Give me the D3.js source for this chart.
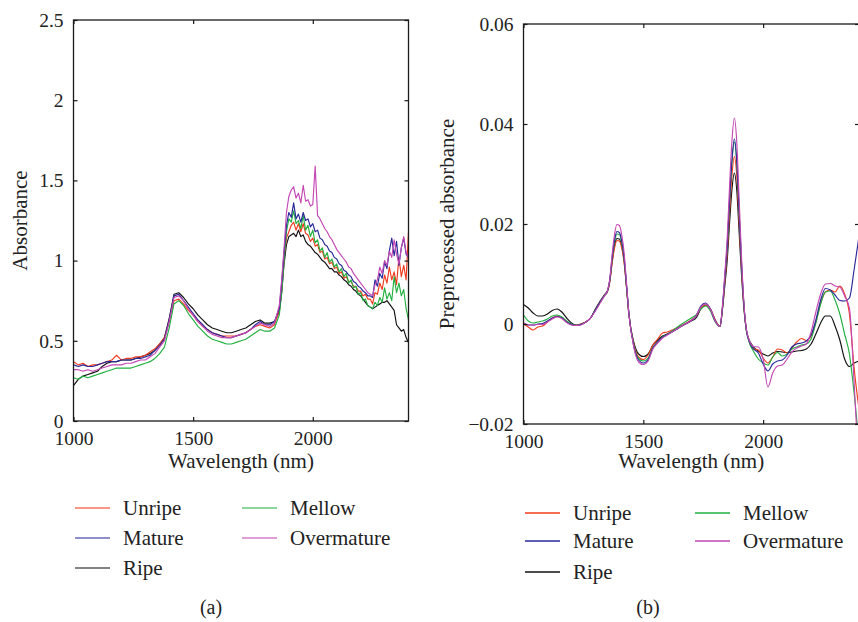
<!DOCTYPE html>
<html>
<head>
<meta charset="utf-8">
<script src="https://cdn.jsdelivr.net/npm/d3@7"></script>
<style>
  body { margin: 0; background: #fff; }
</style>
</head>
<body>
<svg id="chart" width="858" height="622"></svg>
<script>
// ---- data ----
var seriesNames = ["Unripe", "Mature", "Ripe", "Mellow", "Overmature"];
var seriesColors = ["#f23a1e", "#28289a", "#111111", "#22b040", "#c447b4"];

var xTicks = [1000, 1500, 2000];
var yTicksA = [0, 0.5, 1, 1.5, 2, 2.5];
var yTicksB = [-0.02, 0, 0.02, 0.04, 0.06];

var serif = "'Liberation Serif', 'DejaVu Serif', 'Times New Roman', serif";

// (a) raw absorbance: every 20 nm up to 1860, every 10 nm in the noisy part
var wlA = [
 1000,1020,1040,1060,1080,1100,1120,1140,1160,1180,
 1200,1220,1240,1260,1280,1300,1320,1340,1360,1380,
 1400,1420,1440,1460,1480,1500,1520,1540,1560,1580,
 1600,1620,1640,1660,1680,1700,1720,1740,1760,1780,
 1800,1820,1840,1860,
 1870,1880,1890,1900,1910,1920,1930,1940,1950,1960,
 1970,1980,1990,2000,2010,2020,2030,2040,2050,2060,
 2070,2080,2090,2100,2110,2120,2130,2140,2150,2160,
 2170,2180,2190,2200,2210,2220,2230,2240,2250,2260,
 2270,2280,2290,2300,2310,2320,2330,2340,2350,2360,
 2370,2380,2390,2400];

var unripeA = [
 0.37,0.35,0.36,0.34,0.35,0.35,0.36,0.37,0.38,0.41,
 0.38,0.39,0.39,0.40,0.40,0.41,0.43,0.45,0.48,0.52,
 0.62,0.75,0.76,0.73,0.69,0.66,0.62,0.59,0.57,0.55,
 0.54,0.53,0.53,0.53,0.53,0.54,0.55,0.57,0.59,0.60,
 0.59,0.58,0.60,0.69,
 0.82,1.02,1.14,1.18,1.22,1.24,1.19,1.23,1.18,1.23,
 1.17,1.16,1.12,1.14,1.09,1.10,1.05,1.06,1.01,1.02,
 0.98,0.99,0.95,0.96,0.92,0.93,0.89,0.90,0.87,0.87,
 0.84,0.84,0.81,0.81,0.78,0.79,0.76,0.76,0.73,0.80,
 0.79,0.86,0.82,0.91,0.86,0.96,0.88,0.93,0.85,1.02,
 0.90,0.97,0.88,1.18];
var matureA = [
 0.35,0.34,0.35,0.34,0.34,0.35,0.36,0.37,0.37,0.37,
 0.38,0.38,0.38,0.39,0.39,0.40,0.41,0.44,0.47,0.51,
 0.63,0.78,0.79,0.75,0.71,0.67,0.63,0.60,0.57,0.55,
 0.54,0.53,0.52,0.52,0.53,0.54,0.55,0.57,0.60,0.62,
 0.60,0.60,0.62,0.70,
 0.86,1.05,1.22,1.30,1.27,1.36,1.26,1.29,1.24,1.30,
 1.25,1.26,1.21,1.23,1.18,1.19,1.14,1.13,1.10,1.09,
 1.06,1.05,1.02,1.01,0.98,0.97,0.94,0.93,0.91,0.90,
 0.87,0.86,0.84,0.83,0.81,0.80,0.78,0.78,0.77,0.88,
 0.84,0.92,0.89,0.99,0.95,1.06,1.14,1.03,1.12,0.97,
 1.08,1.14,1.04,1.02];
var ripeA = [
 0.22,0.26,0.28,0.29,0.30,0.31,0.34,0.36,0.37,0.37,
 0.38,0.38,0.38,0.39,0.40,0.41,0.42,0.44,0.48,0.52,
 0.64,0.79,0.80,0.77,0.73,0.70,0.66,0.63,0.60,0.58,
 0.57,0.56,0.55,0.55,0.56,0.57,0.58,0.60,0.62,0.63,
 0.61,0.61,0.62,0.68,
 0.80,0.98,1.10,1.15,1.16,1.17,1.15,1.19,1.15,1.16,
 1.12,1.10,1.09,1.07,1.05,1.04,1.02,1.00,0.99,0.97,
 0.95,0.95,0.93,0.93,0.91,0.90,0.88,0.87,0.85,0.84,
 0.82,0.81,0.79,0.78,0.76,0.74,0.72,0.71,0.70,0.71,
 0.72,0.73,0.74,0.74,0.75,0.73,0.71,0.69,0.60,0.58,
 0.56,0.57,0.52,0.49];
var mellowA = [
 0.27,0.26,0.28,0.27,0.28,0.29,0.30,0.31,0.32,0.33,
 0.33,0.33,0.33,0.34,0.35,0.36,0.37,0.39,0.42,0.46,
 0.58,0.73,0.75,0.72,0.67,0.63,0.59,0.56,0.53,0.51,
 0.50,0.49,0.48,0.48,0.49,0.50,0.51,0.53,0.55,0.57,
 0.56,0.56,0.58,0.66,
 0.80,1.00,1.18,1.26,1.24,1.31,1.23,1.25,1.20,1.28,
 1.19,1.22,1.15,1.19,1.11,1.13,1.06,1.08,1.02,1.05,
 0.99,1.01,0.96,0.98,0.93,0.95,0.90,0.92,0.86,0.88,
 0.83,0.84,0.79,0.80,0.75,0.76,0.72,0.71,0.70,0.74,
 0.72,0.77,0.74,0.83,0.76,0.80,0.75,0.90,0.80,0.86,
 0.78,0.82,0.70,0.63];
var overmatureA = [
 0.32,0.32,0.31,0.32,0.31,0.32,0.33,0.34,0.35,0.35,
 0.35,0.36,0.36,0.37,0.38,0.38,0.40,0.42,0.46,0.50,
 0.62,0.77,0.78,0.75,0.70,0.66,0.62,0.59,0.56,0.54,
 0.53,0.52,0.52,0.52,0.53,0.54,0.55,0.57,0.59,0.61,
 0.60,0.59,0.61,0.72,
 0.88,1.08,1.30,1.40,1.44,1.46,1.39,1.42,1.36,1.47,
 1.37,1.38,1.34,1.35,1.59,1.28,1.26,1.23,1.20,1.18,
 1.15,1.13,1.10,1.07,1.05,1.03,1.01,0.99,0.96,0.95,
 0.92,0.90,0.88,0.86,0.84,0.82,0.80,0.79,0.78,0.85,
 0.88,0.96,0.92,1.00,0.97,1.06,1.02,1.13,1.04,0.98,
 1.08,1.15,1.05,1.02];

// (b) preprocessed absorbance, denser around the two peaks
var wlB = [
 1000,1020,1040,1060,1080,1100,1120,1140,1160,1180,
 1200,1220,1240,1260,1280,1300,1320,1340,1350,1360,
 1370,1380,1390,1400,1410,1420,1430,1440,1460,1480,
 1500,1520,1540,1560,1580,1600,1620,1640,1660,1680,
 1700,1720,1740,1760,1780,1800,1820,1830,1840,1850,
 1860,1870,1880,1890,1900,1910,1920,1930,1940,1960,
 1980,2000,2020,2040,2060,2080,2100,2120,2140,2160,
 2180,2200,2220,2240,2260,2280,2300,2320,2340,2360,
 2380,2400];

var unripeB = [
 0.0000,-0.0006,-0.0012,-0.0006,-0.0004,0.0004,0.0012,0.0016,0.0012,0.0004,
 -0.0001,-0.0003,0.0000,0.0004,0.0012,0.0028,0.0044,0.0058,0.0064,0.0083,
 0.0122,0.0152,0.0167,0.0166,0.0152,0.0122,0.0072,0.0018,-0.0040,-0.0066,
 -0.0071,-0.0062,-0.0042,-0.0030,-0.0018,-0.0016,-0.0012,-0.0008,-0.0003,0.0002,
 0.0008,0.0016,0.0032,0.0038,0.0030,0.0008,-0.0005,0.0030,0.0084,0.0141,
 0.0225,0.0299,0.0335,0.0296,0.0202,0.0108,0.0034,-0.0012,-0.0032,-0.0050,
 -0.0052,-0.0068,-0.0078,-0.0066,-0.0050,-0.0052,-0.0058,-0.0048,-0.0036,-0.0029,
 -0.0033,-0.0024,0.0004,0.0042,0.0064,0.0068,0.0064,0.0076,0.0060,0.0020,
 -0.0090,-0.0170];
var matureB = [
 0.0002,-0.0002,-0.0002,0.0000,0.0001,0.0006,0.0012,0.0015,0.0012,0.0004,
 -0.0001,-0.0003,-0.0001,0.0004,0.0012,0.0028,0.0044,0.0058,0.0065,0.0088,
 0.0133,0.0168,0.0185,0.0183,0.0166,0.0132,0.0077,0.0020,-0.0044,-0.0072,
 -0.0078,-0.0071,-0.0048,-0.0036,-0.0027,-0.0021,-0.0016,-0.0010,-0.0004,0.0001,
 0.0007,0.0016,0.0036,0.0042,0.0030,0.0006,-0.0005,0.0032,0.0093,0.0156,
 0.0249,0.0330,0.0370,0.0326,0.0223,0.0119,0.0037,-0.0012,-0.0032,-0.0050,
 -0.0058,-0.0080,-0.0094,-0.0080,-0.0074,-0.0072,-0.0062,-0.0046,-0.0040,-0.0038,
 -0.0034,-0.0022,0.0008,0.0048,0.0071,0.0068,0.0058,0.0047,0.0046,0.0052,
 0.0110,0.0175];
var ripeB = [
 0.0039,0.0032,0.0022,0.0016,0.0016,0.0020,0.0027,0.0030,0.0024,0.0012,
 0.0002,-0.0002,0.0000,0.0004,0.0012,0.0030,0.0046,0.0060,0.0066,0.0086,
 0.0125,0.0157,0.0171,0.0170,0.0155,0.0125,0.0073,0.0018,-0.0036,-0.0060,
 -0.0065,-0.0060,-0.0042,-0.0032,-0.0024,-0.0020,-0.0015,-0.0010,-0.0004,0.0001,
 0.0006,0.0012,0.0030,0.0038,0.0030,0.0008,-0.0005,0.0028,0.0076,0.0127,
 0.0203,0.0270,0.0302,0.0267,0.0182,0.0097,0.0030,-0.0012,-0.0030,-0.0046,
 -0.0054,-0.0060,-0.0064,-0.0058,-0.0055,-0.0056,-0.0057,-0.0056,-0.0054,-0.0053,
 -0.0050,-0.0040,-0.0020,0.0002,0.0016,0.0016,-0.0004,-0.0032,-0.0070,-0.0085,
 -0.0078,-0.0074];
var mellowB = [
 0.0018,0.0006,0.0002,0.0004,0.0006,0.0010,0.0016,0.0018,0.0014,0.0006,
 0.0000,-0.0003,-0.0001,0.0004,0.0012,0.0028,0.0044,0.0058,0.0065,0.0087,
 0.0130,0.0164,0.0180,0.0179,0.0162,0.0130,0.0076,0.0020,-0.0042,-0.0069,
 -0.0074,-0.0068,-0.0047,-0.0036,-0.0026,-0.0021,-0.0014,-0.0007,0.0000,0.0006,
 0.0012,0.0018,0.0030,0.0036,0.0026,0.0004,-0.0005,0.0031,0.0091,0.0153,
 0.0245,0.0325,0.0364,0.0321,0.0219,0.0117,0.0036,-0.0014,-0.0034,-0.0055,
 -0.0070,-0.0078,-0.0082,-0.0066,-0.0057,-0.0064,-0.0060,-0.0050,-0.0046,-0.0042,
 -0.0040,-0.0030,0.0002,0.0040,0.0064,0.0066,0.0048,0.0020,-0.0020,-0.0060,
 -0.0140,-0.0240];
var overmatureB = [
 0.0002,-0.0002,-0.0002,-0.0001,-0.0001,0.0004,0.0010,0.0014,0.0011,0.0003,
 -0.0002,-0.0003,-0.0002,0.0004,0.0012,0.0026,0.0042,0.0058,0.0066,0.0090,
 0.0140,0.0180,0.0199,0.0197,0.0178,0.0142,0.0082,0.0020,-0.0046,-0.0076,
 -0.0081,-0.0074,-0.0050,-0.0038,-0.0028,-0.0022,-0.0016,-0.0010,-0.0004,0.0001,
 0.0007,0.0016,0.0034,0.0040,0.0030,0.0006,-0.0005,0.0036,0.0100,0.0172,
 0.0277,0.0368,0.0412,0.0363,0.0248,0.0132,0.0040,-0.0010,-0.0030,-0.0045,
 -0.0046,-0.0070,-0.0126,-0.0098,-0.0084,-0.0082,-0.0070,-0.0056,-0.0048,-0.0044,
 -0.0040,-0.0016,0.0024,0.0060,0.0080,0.0081,0.0076,0.0074,0.0056,0.0032,
 -0.0120,-0.0300];

var valuesA = [unripeA, matureA, ripeA, mellowA, overmatureA];
var valuesB = [unripeB, matureB, ripeB, mellowB, overmatureB];
var drawOrder = [2, 0, 3, 1, 4];

var svg = d3.select("#chart").style("font-family", serif);

// ---- one panel ----
function drawPanel(p) {
  var x = d3.scaleLinear().domain([1000, 2400]).range([p.left, p.right]);
  var y = d3.scaleLinear().domain(p.yDomain).range([p.bottom, p.top]);

  var g = svg.append("g");

  g.append("clipPath").attr("id", p.id + "-clip")
    .append("rect")
    .attr("x", p.left).attr("y", p.top)
    .attr("width", p.right - p.left).attr("height", p.bottom - p.top);

  var line = d3.line()
    .x(function(d) { return x(d[0]); })
    .y(function(d) { return y(d[1]); })
    .curve(p.curve);

  g.append("g").attr("clip-path", "url(#" + p.id + "-clip)")
    .selectAll("path")
    .data(drawOrder)
    .enter().append("path")
      .attr("d", function(i) { return line(p.wl.map(function(w, k) { return [w, p.values[i][k]]; })); })
      .attr("fill", "none")
      .attr("stroke", function(i) { return seriesColors[i]; })
      .attr("stroke-width", 1.15)
      .attr("stroke-linejoin", "round");

  // frame
  g.append("rect")
    .attr("x", p.left).attr("y", p.top)
    .attr("width", p.right - p.left).attr("height", p.bottom - p.top)
    .attr("fill", "none").attr("stroke", "#1a1a1a").attr("stroke-width", 1.3);

  function style(sel) {
    sel.attr("font-family", null).attr("font-size", null);
    sel.select(".domain").remove();
    sel.selectAll(".tick line").attr("stroke", "#1a1a1a").attr("stroke-width", 1.2);
    sel.selectAll("text")
      .style("font-family", serif).style("font-size", "19.5px").attr("fill", "#222");
  }

  g.append("g").attr("transform", "translate(0," + p.bottom + ")")
    .call(d3.axisBottom(x).tickValues(xTicks).tickSizeInner(-4).tickSizeOuter(0).tickPadding(10).tickFormat(d3.format("d")))
    .call(style);
  g.append("g").attr("transform", "translate(0," + p.top + ")")
    .call(d3.axisTop(x).tickValues(xTicks).tickSizeInner(-4).tickSizeOuter(0).tickFormat(""))
    .call(style);
  g.append("g").attr("transform", "translate(" + p.left + ",0)")
    .call(d3.axisLeft(y).tickValues(p.yTicks).tickSizeInner(-4).tickSizeOuter(0).tickPadding(10).tickFormat(p.yFormat))
    .call(style);
  g.append("g").attr("transform", "translate(" + p.right + ",0)")
    .call(d3.axisRight(y).tickValues(p.yTicks).tickSizeInner(-4).tickSizeOuter(0).tickFormat(""))
    .call(style);

  g.append("text")
    .attr("x", (p.left + p.right) / 2).attr("y", 468)
    .attr("text-anchor", "middle")
    .style("font-family", serif).style("font-size", "21px").attr("fill", "#222")
    .text("Wavelength (nm)");

  g.append("text")
    .attr("transform", "translate(" + p.yLabelX + "," + ((p.top + p.bottom) / 2) + ") rotate(-90)")
    .attr("text-anchor", "middle").attr("dy", "0.35em")
    .style("font-family", serif).style("font-size", "21px").attr("fill", "#222")
    .text(p.yLabel);

  // legend: two columns
  var items = [[0, 0, 0], [1, 0, 1], [2, 0, 2], [3, 1, 0], [4, 1, 1]];
  var leg = g.append("g");
  items.forEach(function(it) {
    var lx = p.legX[it[1]], ly = p.legY[it[2]];
    leg.append("line")
      .attr("x1", lx).attr("x2", lx + 35).attr("y1", ly).attr("y2", ly)
      .attr("stroke", seriesColors[it[0]]).attr("stroke-width", 1.6)
      .attr("stroke-opacity", p.legOpacity);
    leg.append("text")
      .attr("x", lx + 48).attr("y", ly).attr("dy", "0.33em")
      .style("font-family", serif).style("font-size", "21px").attr("fill", "#222")
      .text(seriesNames[it[0]]);
  });

  g.append("text")
    .attr("x", p.tagX).attr("y", 607).attr("dy", "0.35em")
    .attr("text-anchor", "middle")
    .style("font-family", serif).style("font-size", "20px").attr("fill", "#222")
    .text(p.tag);
}

drawPanel({
  id: "pa", left: 73.5, right: 408.5, top: 20, bottom: 421,
  yDomain: [0, 2.5], yTicks: yTicksA,
  yFormat: function(d) { return String(d); },
  wl: wlA, values: valuesA, curve: d3.curveLinear,
  yLabel: "Absorbance", yLabelX: 20,
  legX: [75, 242], legY: [508, 538, 568], legOpacity: 0.7,
  tag: "(a)", tagX: 211
});

drawPanel({
  id: "pb", left: 523.5, right: 859, top: 24, bottom: 424,
  yDomain: [-0.02, 0.06], yTicks: yTicksB,
  yFormat: function(d) { return d === 0 ? "0" : (d < 0 ? "\u2212" : "") + Math.abs(d).toFixed(2); },
  wl: wlB, values: valuesB, curve: d3.curveMonotoneX,
  yLabel: "Preprocessed absorbance", yLabelX: 447,
  legX: [525, 695], legY: [513, 541, 572], legOpacity: 1,
  tag: "(b)", tagX: 648
});
</script>
</body>
</html>
